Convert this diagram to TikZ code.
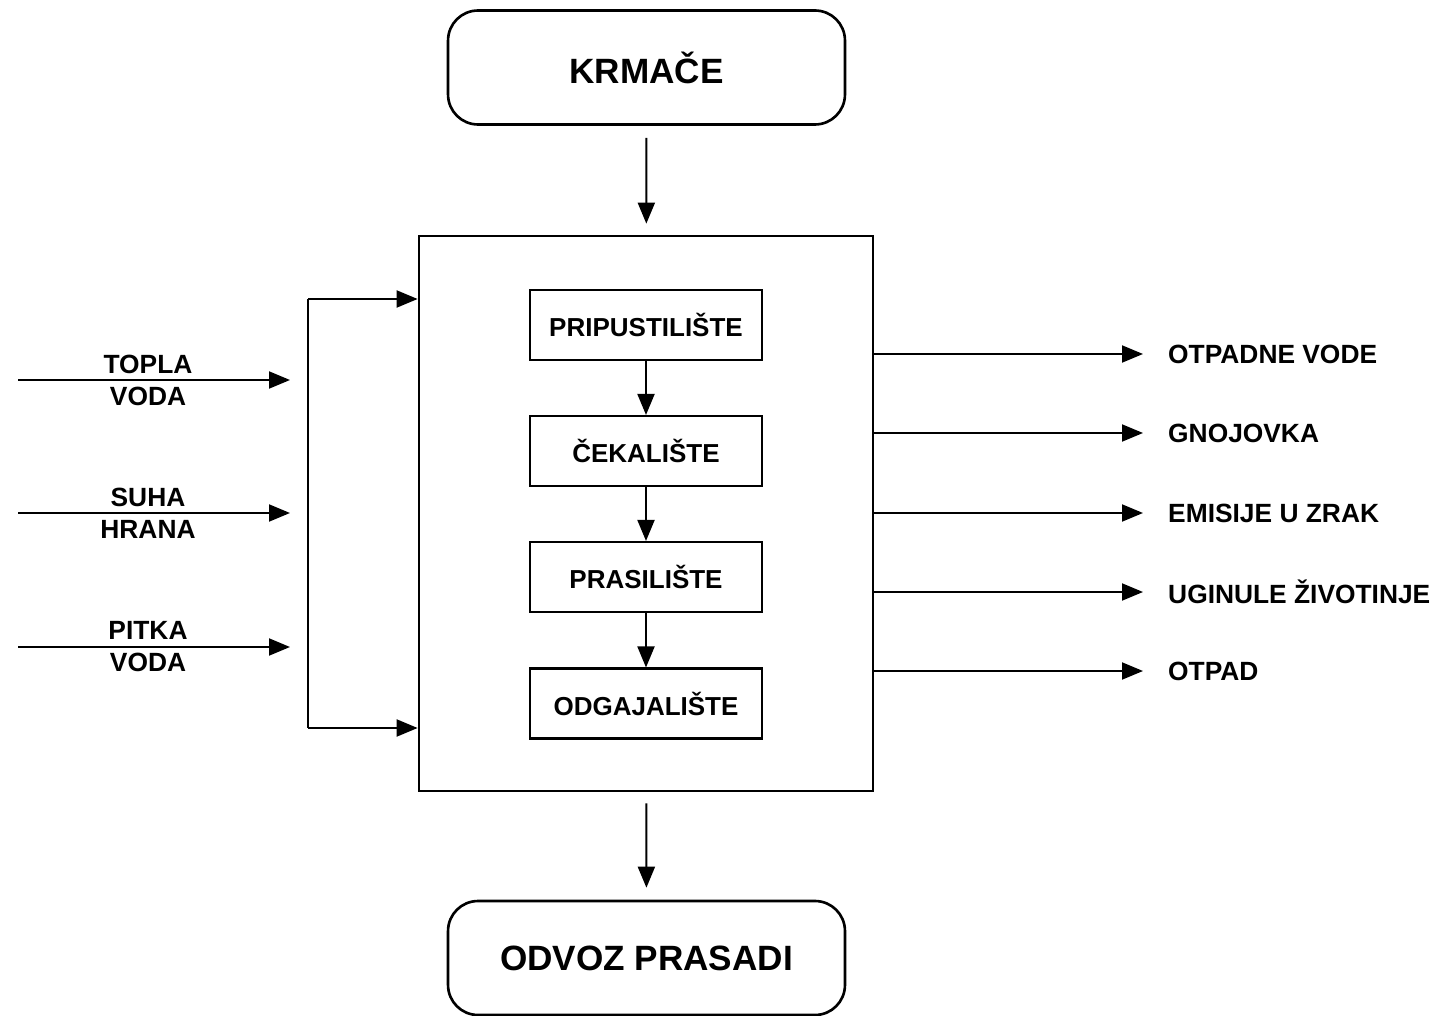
\documentclass[tikz,border=0pt]{standalone}
\usepackage{fontspec}
\setmainfont{Liberation Sans}
\usetikzlibrary{positioning, arrows.meta}

\tikzset{
  endbox/.style={draw, line width=1.5pt, rounded corners=0.6cm, minimum width=7.94cm, minimum height=2.28cm, font=\fontsize{20}{24}\selectfont\bfseries},
  stage/.style={draw, line width=1.2pt, minimum width=4.64cm, minimum height=1.4cm, font=\fontsize{14.8}{18}\selectfont\bfseries},
  lbl/.style={font=\fontsize{15}{18.2}\selectfont\bfseries, align=center},
  flow/.style={line width=1.1pt, -{Triangle[length=0.42cm, width=0.34cm]}},
}

\begin{document}
\begin{tikzpicture}[x=0.02cm, y=-0.02cm]
    \useasboundingbox (0,0) rectangle (1443,1016);

    % top and bottom
    \node[endbox] (krmace) at (646.5,67.5) {KRMAČE};
    \node[endbox] (odvoz) at (646.5,958) {ODVOZ PRASADI};

    % farm with its stages
    \node[draw, line width=1.6pt, minimum width=9.08cm, minimum height=11.1cm] (farm) at (646,513.5) {};
    \node[stage] (pripust) at (646,325) {PRIPUSTILIŠTE};
    \node[stage] (cekal) at (646,451) {ČEKALIŠTE};
    \node[stage] (prasil) at (646,577) {PRASILIŠTE};
    \node[stage] (odgaj) at (646,703.5) {ODGAJALIŠTE};

    \draw[flow, shorten <=0.24cm, shorten >=0.22cm] (krmace) -- (farm);
    \draw[flow, shorten <=0.22cm, shorten >=0.24cm] (farm) -- (odvoz);
    \draw[flow] (pripust) -- (cekal);
    \draw[flow] (cekal) -- (prasil);
    \draw[flow] (prasil) -- (odgaj);

    % inputs
    \coordinate (bt) at (308,299);
    \coordinate (bb) at (308,728);
    \draw[line width=1.1pt] (bt) -- (bb);
    \draw[flow] (bt) -- (bt -| farm.west);
    \draw[flow] (bb) -- (bb -| farm.west);

    \foreach \y/\t/\n in {380/TOPLA\\VODA/topla, 513/SUHA\\HRANA/suha, 647/PITKA\\VODA/pitka} {
        \coordinate (s\n) at (18,\y);
        \draw[flow, shorten >=0.36cm] (s\n) -- (s\n -| bt);
        \node[lbl] (\n) at (148,\y) {\t};
    }

    % outputs
    \foreach \y/\t/\n in {354/OTPADNE VODE/otpvode, 433/GNOJOVKA/gnoj, 513/EMISIJE U ZRAK/emis, 592/UGINULE ŽIVOTINJE/ugin, 671/OTPAD/otpad} {
        \coordinate (e\n) at (1143,\y);
        \draw[flow] (farm.east |- e\n) -- (e\n);
        \node[lbl, anchor=west] (\n) at (1162,\y) {\t};
    }
\end{tikzpicture}
\end{document}
